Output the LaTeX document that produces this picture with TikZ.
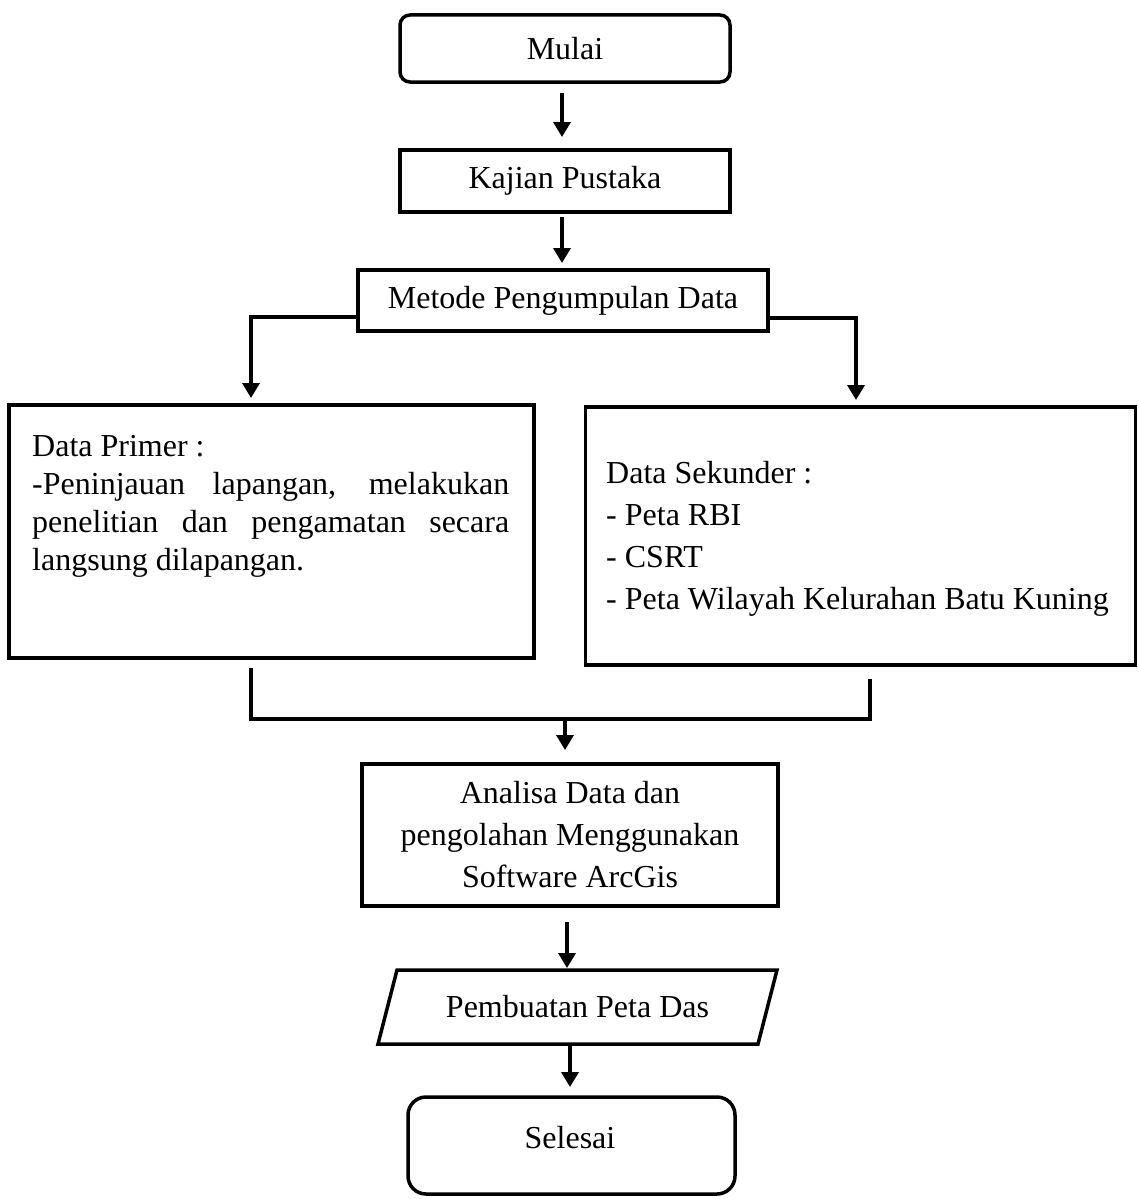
\documentclass[tikz,border=0pt]{standalone}
\usepackage{fontspec}
\setmainfont{Liberation Serif}
\usetikzlibrary{arrows.meta,calc}
\newcommand\prmset{\tolerance=10000 \hyphenpenalty=10000 \exhyphenpenalty=10000 \parindent=0pt }
\begin{document}
\begin{tikzpicture}[x=1pt,y=-1pt,
  every node/.style={font=\fontsize{32}{38}\selectfont},
  lw/.style={line width=3.5pt},
  boxnode/.style={draw, lw, inner sep=0pt, outer sep=0pt},
  arr/.style={lw, -{Triangle[width=17pt,length=15pt]}},
  conn/.style={lw}]
\fill[white] (0,0) rectangle (1138,1199);
\useasboundingbox (0,0) rectangle (1138,1199);

% nodes
\node[boxnode, rounded corners=10pt, minimum width=330, minimum height=67] (mulai) at (565,48.5) {Mulai};
\node[boxnode, minimum width=330, minimum height=62] (kajian) at (565,181) {Kajian Pustaka};
\node[boxnode, minimum width=410, minimum height=61] (metode) at (563,300.5) {Metode Pengumpulan Data};
\node[boxnode, minimum width=525, minimum height=253] (primer) at (271.5,531.5) {};
\node[anchor=north west, inner sep=0pt, text width=477pt, align=justify] (primertext) at (32,435)
  {\prmset Data Primer :\par -Peninjauan lapangan, melakukan penelitian dan pengamatan secara langsung dilapangan.};
\node[boxnode, minimum width=550, minimum height=258] (sekunder) at (860.5,536) {};
\node[anchor=north west, inner sep=0pt, align=left, font=\fontsize{32}{42}\selectfont] (sekundertext) at (606,461)
  {Data Sekunder :\\- Peta RBI\\- CSRT\\- Peta Wilayah Kelurahan Batu Kuning};
\node[boxnode, minimum width=416, minimum height=142, align=center, font=\fontsize{32}{42}\selectfont] (analisa) at (570,835)
  {Analisa Data dan\\pengolahan Menggunakan\\Software ArcGis};
\node[inner sep=0pt, outer sep=0pt, minimum width=380, minimum height=74] (peta) at (577.5,1007) {Pembuatan Peta Das};
\draw[lw] ([xshift=-9.5pt]peta.south west) -- ([xshift=9.5pt]peta.north west) -- ([xshift=9.5pt]peta.north east) -- ([xshift=-9.5pt]peta.south east) -- cycle;
\node[boxnode, rounded corners=18pt, minimum width=327, minimum height=97] (selesai) at (571.5,1145.5) {};
\node[inner sep=0pt] (selesaitext) at (570,1138) {Selesai};

% connectors
\coordinate (jl) at (251,719);
\coordinate (jr) at (870,719);
\coordinate (jm) at (565,719);
\draw[arr] ([xshift=-3pt,yshift=-11pt]mulai.south) -- ([xshift=-3pt,yshift=13pt]kajian.north);
\draw[arr] ([xshift=-3pt,yshift=-5pt]kajian.south) -- ([xshift=-1pt,yshift=7pt]metode.north);
\draw[arr] ([yshift=-16.5pt]metode.west) -| ([xshift=-20.5pt,yshift=7pt]primer.north);
\draw[arr] ([yshift=-17.5pt]metode.east) -| ([xshift=-4.5pt,yshift=7pt]sekunder.north);
\draw[conn] ([xshift=-20.5pt,yshift=-10pt]primer.south) -- (jl) -- (jr) -- ([xshift=9.5pt,yshift=-14pt]sekunder.south);
\draw[arr] (jm) -- ([xshift=-5pt,yshift=14pt]analisa.north);
\draw[arr] ([xshift=-3pt,yshift=-16pt]analisa.south) -- ([xshift=-10.5pt,yshift=2pt]peta.north);
\draw[arr] ([xshift=-7.5pt]peta.south) -- ([xshift=-1.5pt,yshift=10pt]selesai.north);
\end{tikzpicture}
\end{document}
